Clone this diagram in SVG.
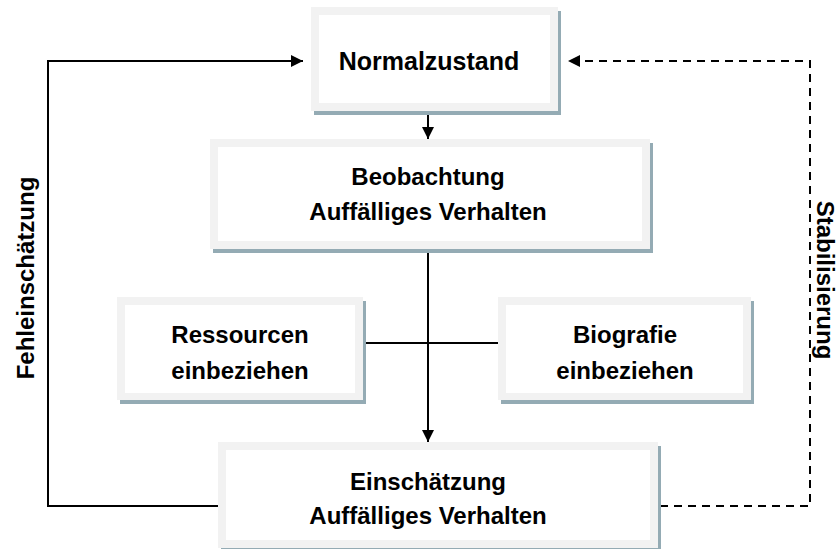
<svg xmlns="http://www.w3.org/2000/svg" width="840" height="549" viewBox="0 0 840 549">
<defs>
<marker id="ah" viewBox="0 0 12 12" refX="12" refY="6" markerWidth="12" markerHeight="12" markerUnits="userSpaceOnUse" orient="auto">
<path d="M0,0 L12,6 L0,12 Z" fill="#000"/>
</marker>
<style>
.sh{fill:#94abb4}
.ob{fill:#f2f2f2}
.ib{fill:#ffffff}
.t{font-family:"Liberation Sans",Arial,sans-serif;font-weight:bold;font-size:24px;fill:#000;text-anchor:middle}
.c{fill:none;stroke:#000;stroke-width:2}
.d{fill:none;stroke:#000;stroke-width:2;stroke-dasharray:8,6}
</style>
</defs>
<rect width="840" height="549" fill="#fff"/>
<g id="connectors">
<path class="c" d="M428,111 V139" marker-end="url(#ah)"/>
<path class="c" d="M428,252 V442" marker-end="url(#ah)"/>
<path class="c" d="M363,343 H498"/>
<path class="c" d="M219,506 H48 V61 H303" marker-end="url(#ah)"/>
<path class="d" d="M660,506 H810 V61 H568" marker-end="url(#ah)"/>
</g>
<g id="normalzustand">
<rect class="sh" x="314" y="11" width="247" height="104"/>
<rect class="ob" x="311" y="7" width="247" height="104"/>
<rect class="ib" x="319" y="15" width="231" height="88"/>
<text class="t" x="429" y="70" style="font-size:25px">Normalzustand</text>
</g>
<g id="beobachtung">
<rect class="sh" x="213" y="143" width="440" height="110"/>
<rect class="ob" x="210" y="139" width="440" height="110"/>
<rect class="ib" x="218" y="147" width="424" height="94"/>
<text class="t" x="428" y="185">Beobachtung</text>
<text class="t" x="428" y="220">Auffälliges Verhalten</text>
</g>
<g id="ressourcen">
<rect class="sh" x="120" y="301" width="246" height="103"/>
<rect class="ob" x="117" y="297" width="246" height="103"/>
<rect class="ib" x="125" y="305" width="230" height="88"/>
<text class="t" x="240" y="343">Ressourcen</text>
<text class="t" x="240" y="379">einbeziehen</text>
</g>
<g id="biografie">
<rect class="sh" x="501" y="301" width="253" height="103"/>
<rect class="ob" x="498" y="297" width="253" height="103"/>
<rect class="ib" x="506" y="305" width="237" height="88"/>
<text class="t" x="625" y="343">Biografie</text>
<text class="t" x="625" y="379">einbeziehen</text>
</g>
<g id="einschaetzung">
<rect class="sh" x="221" y="446" width="440" height="106"/>
<rect class="ob" x="218" y="442" width="440" height="106"/>
<rect class="ib" x="226" y="450" width="424" height="90"/>
<text class="t" x="428" y="490">Einschätzung</text>
<text class="t" x="428" y="524">Auffälliges Verhalten</text>
</g>
<g id="label-fehleinschaetzung">
<text class="t" transform="translate(34,278) rotate(-90)">Fehleinschätzung</text>
</g>
<g id="label-stabilisierung">
<text class="t" transform="translate(817,280) rotate(90)">Stabilisierung</text>
</g>
</svg>
